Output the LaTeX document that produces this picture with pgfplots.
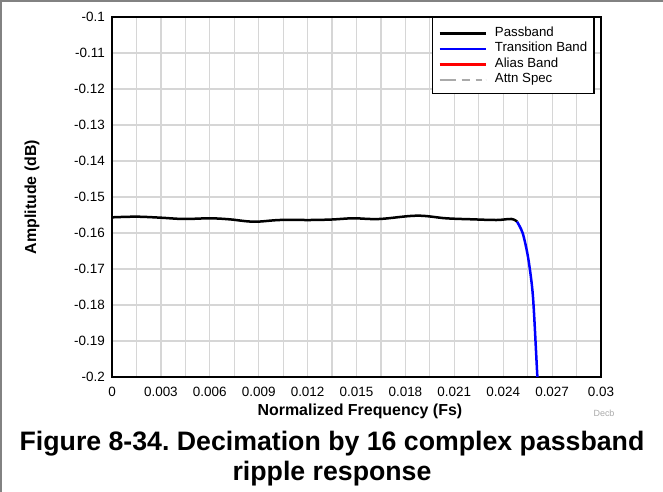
\documentclass[border=0pt]{standalone}
\usepackage{pgfplots}
\pgfplotsset{compat=1.18}
\usepackage{fontspec}
\setmainfont{Liberation Sans}
\definecolor{gridgray}{RGB}{214,214,214}
\definecolor{framegray}{RGB}{130,130,130}
\definecolor{attngray}{RGB}{170,170,170}
\definecolor{pureblue}{RGB}{0,0,255}
\definecolor{purered}{RGB}{255,0,0}
\begin{document}
\frenchspacing
\begin{tikzpicture}
\useasboundingbox (0bp,0bp) rectangle (663bp,492bp);
\draw[framegray, line width=2bp] (1bp,0bp) -- (1bp,491bp) -- (663bp,491bp);
\begin{axis}[
  at={(112bp,115bp)}, anchor=south west,
  scale only axis, width=489bp, height=360bp,
  xmin=0, xmax=0.03, ymin=-0.2, ymax=-0.1,
  scaled x ticks=false, scaled y ticks=false,
  xtick={0,0.0015,0.003,0.0045,0.006,0.0075,0.009,0.0105,0.012,0.0135,0.015,0.0165,0.018,0.0195,0.021,0.0225,0.024,0.0255,0.027,0.0285,0.03},
  xticklabels={0,{},0.003,{},0.006,{},0.009,{},0.012,{},0.015,{},0.018,{},0.021,{},0.024,{},0.027,{},0.03},
  ytick={-0.2,-0.19,-0.18,-0.17,-0.16,-0.15,-0.14,-0.13,-0.12,-0.11,-0.1},
  yticklabels={-0.2,-0.19,-0.18,-0.17,-0.16,-0.15,-0.14,-0.13,-0.12,-0.11,-0.1},
  grid=major,
  major grid style={gridgray, line width=1.2bp},
  major tick length=0pt,
  axis line style={black, line width=2bp},
  tick label style={font=\fontsize{13.5}{16}\selectfont, /pgf/number format/assume math mode=true},
  yticklabel style={inner sep=0pt, xshift=-7bp},
  xticklabel style={inner sep=0pt, yshift=-10bp},
  xlabel={Normalized Frequency (Fs)},
  ylabel={Amplitude (dB)},
  xlabel style={font=\bfseries\fontsize{16}{19}\selectfont, at={(axis description cs:0.507,-0.0945)}, anchor=center},
  ylabel style={font=\bfseries\fontsize{16}{19}\selectfont, at={(axis description cs:-0.1636,0.5)}, anchor=center},
  legend style={at={(axis description cs:0.9877,1)}, anchor=north east,
    draw=black, line width=1.5bp, fill=white,
    font=\fontsize{13.3}{15}\selectfont,
    inner xsep=6bp, inner ysep=8bp,
    nodes={inner sep=1bp},
    row sep=2.5bp,
    /tikz/every odd column/.append style={column sep=7bp}},
  legend cell align=left,
  legend image code/.code={\draw[#1] (0bp,-1bp) -- (46bp,-1bp);},
]
\addplot[black, line width=2.5bp, smooth, tension=0.6] coordinates {
(0, -0.15565)
(0.0015, -0.15547)
(0.003, -0.15575)
(0.0044, -0.15611)
(0.006, -0.15592)
(0.0072, -0.1562)
(0.0087, -0.15686)
(0.0103, -0.15639)
(0.0122, -0.15639)
(0.0135, -0.15625)
(0.0148, -0.15592)
(0.0164, -0.15611)
(0.0187, -0.15519)
(0.0205, -0.15592)
(0.0221, -0.1562)
(0.0236, -0.15639)
(0.0245, -0.15611)
(0.02485, -0.15686)
};
\addlegendentry{Passband}
\addplot[pureblue, line width=2.5bp, smooth, tension=0.5] coordinates {
(0.02485, -0.15686)
(0.0252, -0.1601)
(0.02552, -0.1666)
(0.02577, -0.1749)
(0.02589, -0.1822)
(0.02609, -0.1994)
(0.02612, -0.2005)
};
\addlegendentry{Transition Band}
\addlegendimage{purered, line width=2.5bp}
\addlegendentry{Alias Band}
\addlegendimage{attngray, line width=2.5bp, dash pattern=on 16bp off 6bp on 8bp off 6bp on 6bp off 4bp}
\addlegendentry{Attn Spec}
\end{axis}
\node[anchor=base, text=attngray, font=\fontsize{9}{10}\selectfont] at (604bp,75bp) {Decb};
\node[anchor=base, font=\bfseries\fontsize{26.8}{30}\selectfont] at (332bp,41bp) {Figure 8-34. Decimation by 16 complex passband};
\node[anchor=base, font=\bfseries\fontsize{26.8}{30}\selectfont] at (332bp,12bp) {ripple response};
\end{tikzpicture}
\end{document}
